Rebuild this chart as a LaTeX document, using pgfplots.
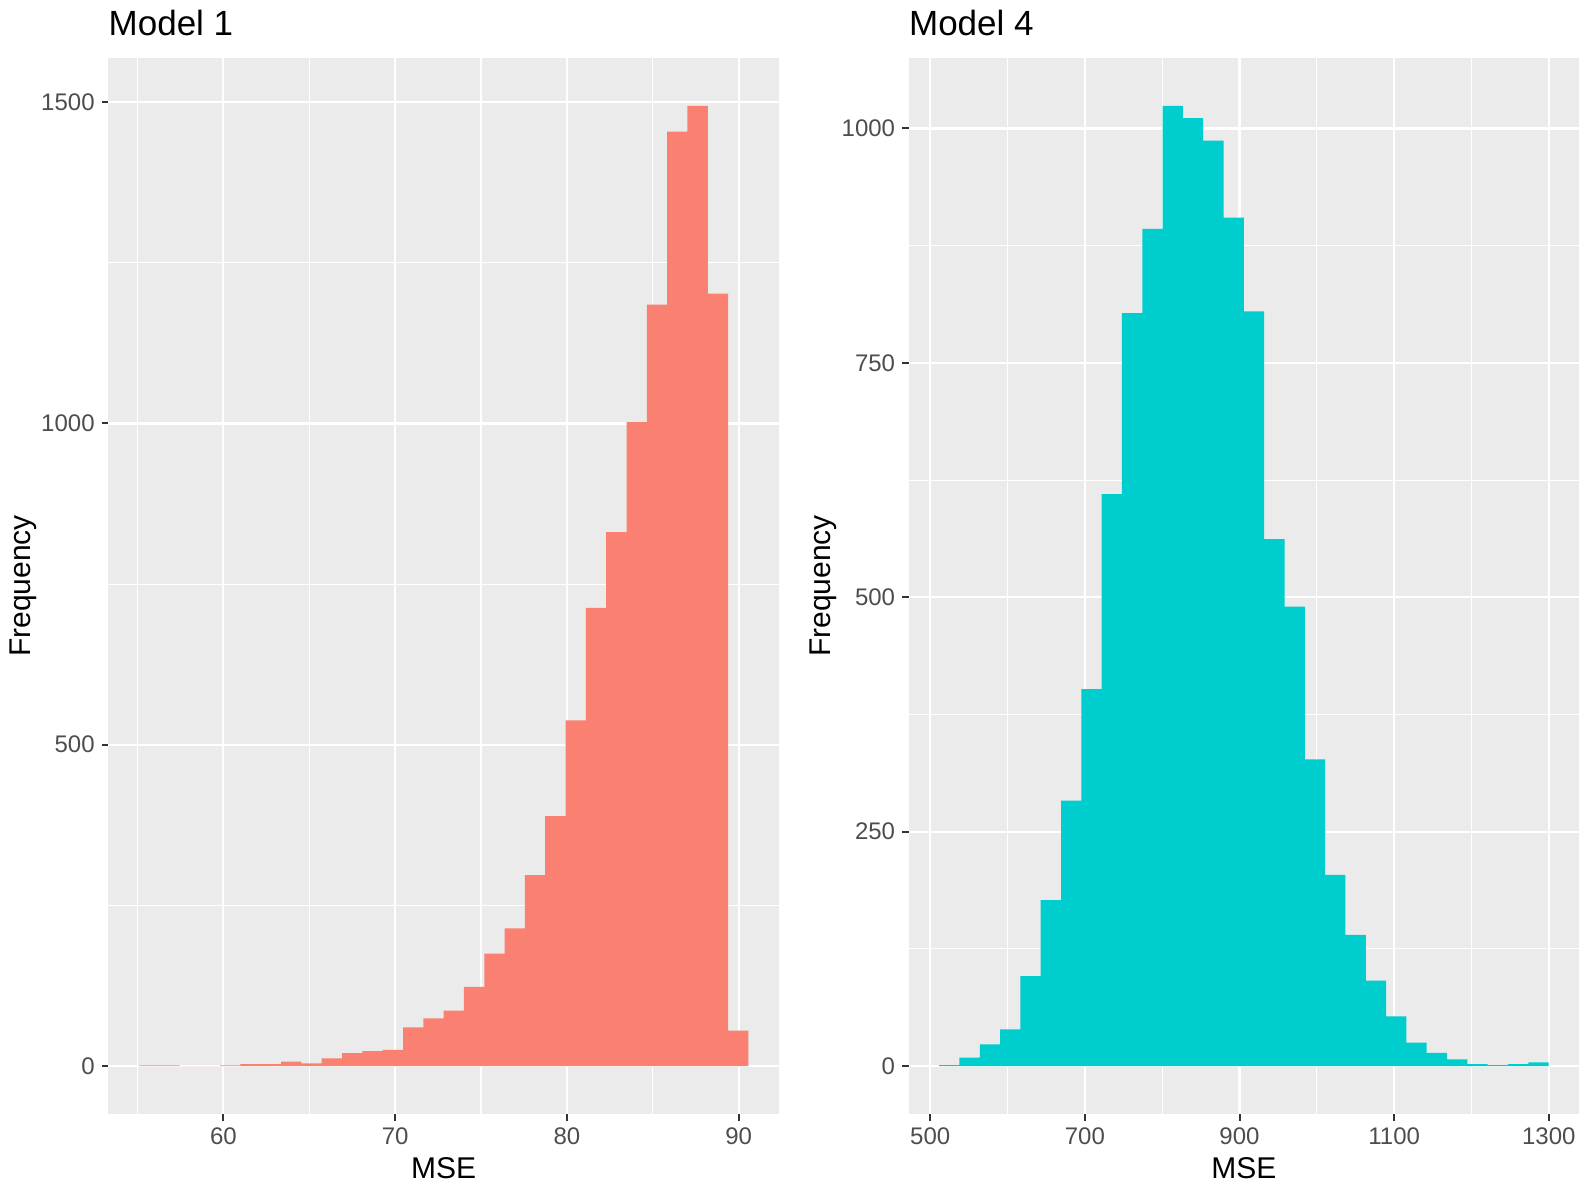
\documentclass[border=0pt]{standalone}
\usepackage{fontspec}
\setmainfont{Liberation Sans}
\usepackage{pgfplots}
\pgfplotsset{compat=1.18}
\definecolor{panel}{HTML}{EBEBEB}
\definecolor{ticklab}{HTML}{4D4D4D}
\definecolor{tickmark}{HTML}{333333}
\definecolor{barred}{HTML}{FA8072}
\definecolor{barcyan}{HTML}{00CDCD}
\pgfplotsset{
  gg/.style={
    scale only axis,
    axis background/.style={fill=panel},
    axis x line*=bottom, axis y line*=left,
    axis line style={draw=none},
    tick align=outside,
    major tick length=3.3pt,
    minor tick length=0pt,
    every tick/.append style={tickmark, line width=1pt},
    xmajorgrids, ymajorgrids, xminorgrids, yminorgrids,
    major grid style={white, line width=1.1pt},
    minor grid style={white, line width=0.55pt},
    tick label style={font=\fontsize{12}{14}\selectfont, text=ticklab},
    /pgf/number format/assume math mode=true,
    /pgf/number format/1000 sep={},
    label style={font=\fontsize{15}{18}\selectfont},
    title style={font=\fontsize{17.5}{21}\selectfont, at={(axis description cs:0,1)}, anchor=base west, inner sep=0pt, yshift=5pt},
    xlabel style={at={(axis description cs:0.5,0)}, anchor=base, inner sep=0pt, yshift=-32pt},
    ylabel style={at={(axis description cs:-0.148,0.5)}, anchor=north, inner sep=0pt},
    xlabel={MSE}, ylabel={Frequency},
  }
}
\begin{document}
\begin{tikzpicture}
\useasboundingbox (0,0) rectangle (794pt,597pt);
% Model 1
\begin{axis}[gg,
  at={(54.15pt,40pt)}, anchor=south west,
  width=335.35pt, height=528pt,
  xmin=53.3, xmax=92.35, ymin=-74.7, ymax=1568.7,
  xtick={60,70,80,90}, minor xtick={55,65,75,85},
  ytick={0,500,1000,1500}, minor ytick={250,750,1250},
  title={Model 1}]
\addplot[ybar interval, fill=barred, draw=none] coordinates {
(55.08,1) (56.263,1) (57.446,0) (58.629,0) (59.812,1) (60.995,3)
(62.178,3) (63.361,7) (64.544,4) (65.727,12) (66.91,20) (68.093,23)
(69.276,25) (70.459,60) (71.642,74) (72.825,86) (74.008,123) (75.191,175)
(76.374,214) (77.557,297) (78.74,389) (79.923,538) (81.106,713) (82.289,831)
(83.472,1002) (84.655,1185) (85.838,1454) (87.021,1494) (88.204,1202) (89.387,55)
(90.57,0)};
\end{axis}
% Model 4
\begin{axis}[gg,
  at={(454.35pt,40pt)}, anchor=south west,
  width=335.15pt, height=528pt,
  xmin=472.2, xmax=1339.1, ymin=-51.2, ymax=1075.2,
  xtick={500,700,900,1100,1300}, minor xtick={600,800,1000,1200},
  ytick={0,250,500,750,1000}, minor ytick={125,375,625,875},
  title={Model 4}]
\addplot[ybar interval, fill=barcyan, draw=none] coordinates {
(511.6,1) (537.87,9) (564.14,23) (590.41,39) (616.68,96) (642.95,177)
(669.22,283) (695.49,402) (721.76,610) (748.03,803) (774.3,893) (800.57,1024)
(826.84,1011) (853.11,987) (879.38,905) (905.65,805) (931.92,562) (958.19,490)
(984.46,327) (1010.73,204) (1037.0,140) (1063.27,91) (1089.54,53) (1115.81,25)
(1142.08,14) (1168.35,7) (1194.62,2) (1220.89,1) (1247.16,2) (1273.43,4)
(1299.7,0)};
\end{axis}
\end{tikzpicture}
\end{document}
